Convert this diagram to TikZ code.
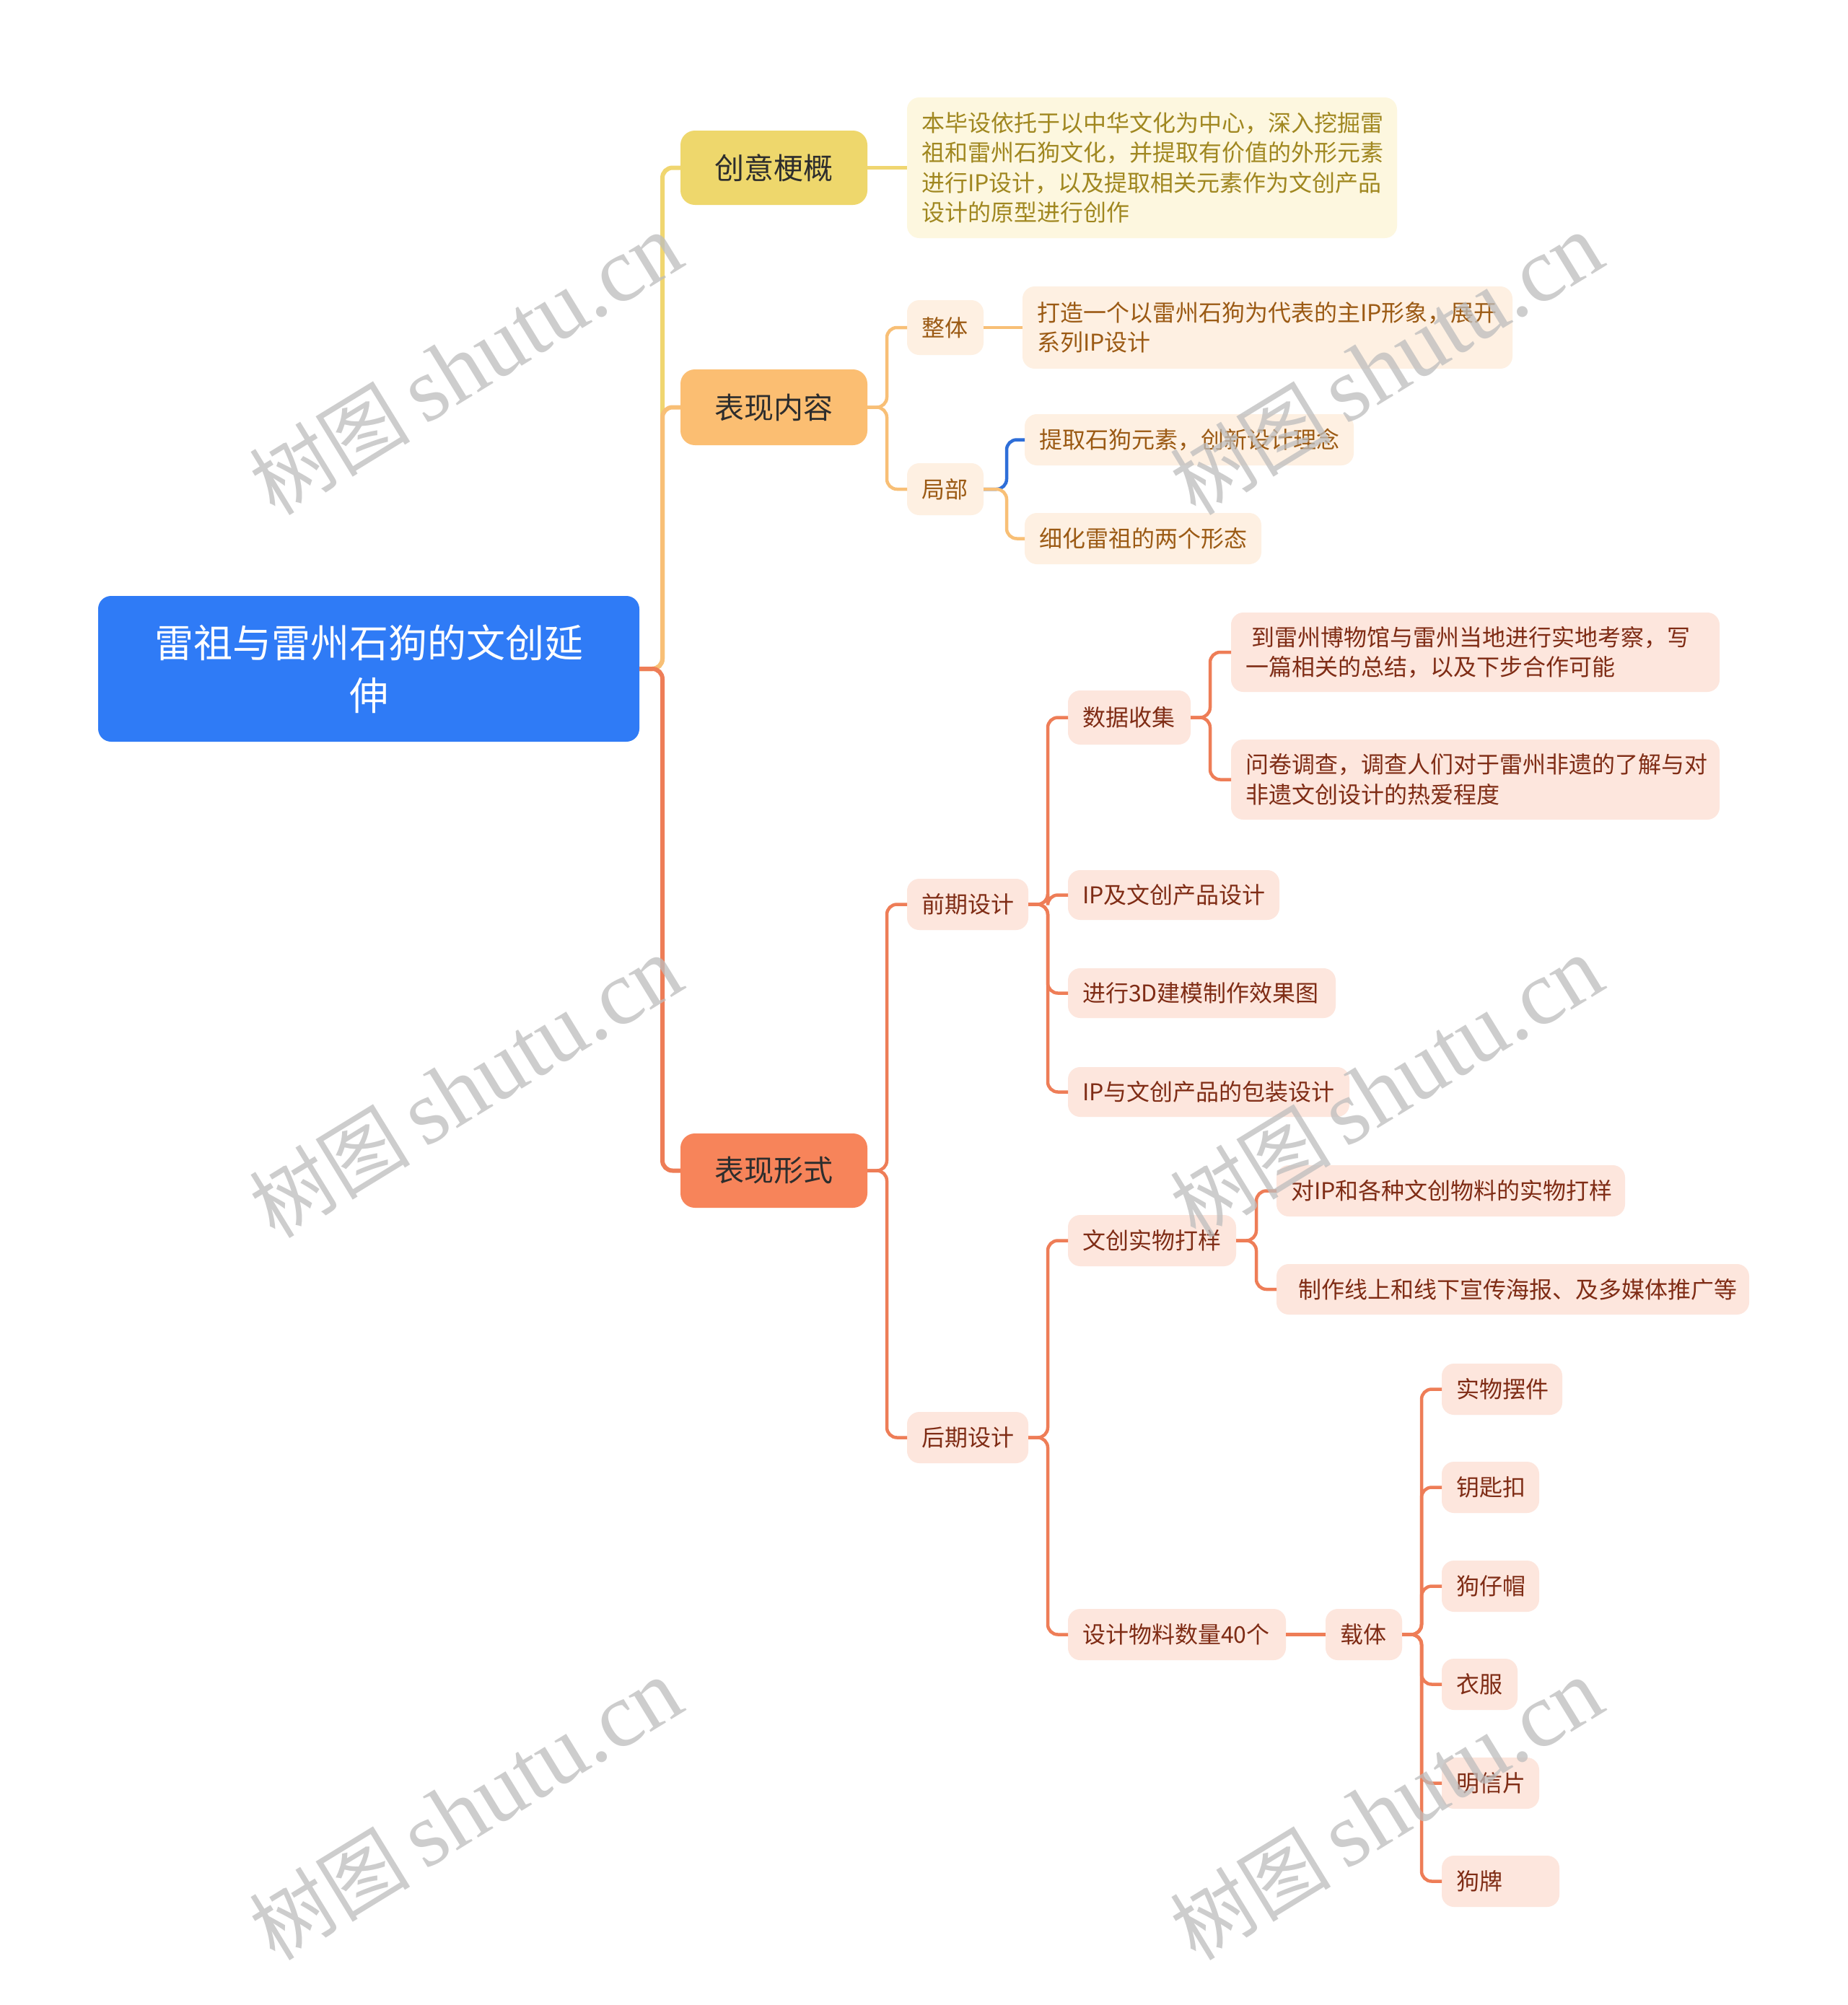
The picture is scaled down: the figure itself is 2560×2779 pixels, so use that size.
\documentclass[tikz,border=0pt]{standalone}
\usepackage{fontspec}
\setmainfont{Noto Sans CJK SC}
\newfontfamily\wmcjk{Noto Sans CJK SC}
\newfontfamily\wmlat{Liberation Serif}
\definecolor{rootblue}{HTML}{2F7BF6}
\definecolor{mainY}{HTML}{EED76C}
\definecolor{lineY}{HTML}{F0D670}
\definecolor{lightY}{HTML}{FDF7DF}
\definecolor{textY}{HTML}{A08720}
\definecolor{mainO}{HTML}{FBBE72}
\definecolor{lineO}{HTML}{F8BF76}
\definecolor{lightO}{HTML}{FEF0E2}
\definecolor{textO}{HTML}{9B5A14}
\definecolor{mainR}{HTML}{F7845A}
\definecolor{lineR}{HTML}{EE7D57}
\definecolor{lightR}{HTML}{FDE6DD}
\definecolor{textR}{HTML}{7F2C15}
\definecolor{mainText}{HTML}{2D2D2D}
\definecolor{lineB}{HTML}{2E6ED8}
\definecolor{wmgray}{HTML}{BDBDBD}
\newcommand{\mybox}[7]{%
  \pgfmathsetmacro\bxw{#4-#2}\pgfmathsetmacro\bxh{#5-#3}%
  \pgfmathsetmacro\bxcx{(#2+#4)/2}\pgfmathsetmacro\bxcy{(#3+#5)/2}%
  \pgfmathsetmacro\bxtw{#4-#2-40}%
  \node[#6, minimum width=\bxw pt, minimum height=\bxh pt, text width=\bxtw pt] (#1) at (\bxcx,\bxcy) {#7};}
\tikzset{
  basebox/.style={inner xsep=20pt, inner ysep=0pt, outer sep=0pt},
  rootbox/.style={basebox, fill=rootblue, rounded corners=18pt, text=white, align=center, font=\fontsize{54}{73}\selectfont},
  mbox/.style={basebox, rounded corners=20pt, text=mainText, align=center, font=\fontsize{41}{50}\selectfont},
  subbox/.style={basebox, rounded corners=17pt, align=left, font=\fontsize{32}{41.5}\selectfont},
  subY/.style={subbox, fill=lightY, text=textY},
  subO/.style={subbox, fill=lightO, text=textO},
  subR/.style={subbox, fill=lightR, text=textR},
  lnmain/.style={line width=6pt, rounded corners=14pt},
  lnsub/.style={line width=4.5pt, rounded corners=14pt},
  wm/.style={text=wmgray, opacity=0.75, rotate=31.5, inner sep=0pt}
}
\begin{document}
\begin{tikzpicture}[x=1pt,y=-1pt]
\useasboundingbox[fill=white] (0,0) rectangle (2560,2779);
% root and main
\mybox{root}{136}{826}{886}{1028}{rootbox}{雷祖与雷州石狗的文创延\\伸}
\mybox{cy}{943}{181}{1202}{284}{mbox, fill=mainY}{创意梗概}
\mybox{bn}{943}{512}{1202}{617}{mbox, fill=mainO}{表现内容}
\mybox{bx}{943}{1571}{1202}{1674}{mbox, fill=mainR}{表现形式}
% yellow branch
\mybox{cyd}{1257}{135}{1936}{330}{subY}{本毕设依托于以中华文化为中心，深入挖掘雷\\祖和雷州石狗文化，并提取有价值的外形元素\\进行IP设计，以及提取相关元素作为文创产品\\设计的原型进行创作}
% orange branch
\mybox{zt}{1257}{416}{1363}{492}{subO}{整体}
\mybox{ztd}{1417}{397}{2096}{511}{subO}{打造一个以雷州石狗为代表的主IP形象，展开\\系列IP设计}
\mybox{jb}{1257}{642}{1363}{714}{subO}{局部}
\mybox{tq}{1420}{574}{1876}{645}{subO}{提取石狗元素，创新设计理念}
\mybox{xh}{1420}{711}{1748}{782}{subO}{细化雷祖的两个形态}
% red branch
\mybox{qq}{1257}{1218}{1425}{1289}{subR}{前期设计}
\mybox{sj}{1480}{957}{1650}{1032}{subR}{数据收集}
\mybox{sja}{1706}{849}{2383}{959}{subR}{\hspace*{8pt}到雷州博物馆与雷州当地进行实地考察，写\\一篇相关的总结，以及下步合作可能}
\mybox{sjb}{1706}{1025}{2383}{1136}{subR}{问卷调查，调查人们对于雷州非遗的了解与对\\非遗文创设计的热爱程度}
\mybox{ip}{1480}{1206}{1773}{1275}{subR}{IP及文创产品设计}
\mybox{md}{1480}{1342}{1851}{1411}{subR}{进行3D建模制作效果图}
\mybox{bz}{1480}{1479}{1870}{1548}{subR}{IP与文创产品的包装设计}
\mybox{hq}{1257}{1957}{1425}{2028}{subR}{后期设计}
\mybox{wc}{1480}{1684}{1713}{1755}{subR}{文创实物打样}
\mybox{wca}{1769}{1615}{2252}{1686}{subR}{对IP和各种文创物料的实物打样}
\mybox{wcb}{1769}{1752}{2424}{1822}{subR}{\hspace*{10pt}制作线上和线下宣传海报、及多媒体推广等}
\mybox{wl}{1480}{2230}{1782}{2301}{subR}{设计物料数量40个}
\mybox{zti}{1837}{2230}{1943}{2301}{subR}{载体}
\mybox{ca}{1998}{1890}{2165}{1961}{subR}{实物摆件}
\mybox{cb}{1998}{2026}{2133}{2097}{subR}{钥匙扣}
\mybox{cc}{1998}{2163}{2133}{2234}{subR}{狗仔帽}
\mybox{cd}{1998}{2299}{2103}{2370}{subR}{衣服}
\mybox{ce}{1998}{2436}{2133}{2507}{subR}{明信片}
\mybox{cf}{1998}{2572}{2161}{2643}{subR}{狗牌}
% connectors: level 1
\draw[lnmain, lineY] (root.east) -- ++(32,0) |- (cy.west);
\draw[lnmain, lineO] (root.east) -- ++(32,0) |- (bn.west);
\draw[lnmain, lineR] (root.east) -- ++(32,0) |- (bx.west);
% yellow
\draw[lnsub, lineY] (cy.east) -- (cyd.west);
% orange
\draw[lnsub, lineO] (bn.east) -- ++(27,0) |- (zt.west);
\draw[lnsub, lineO] (bn.east) -- ++(27,0) |- (jb.west);
\draw[lnsub, lineO] (zt.east) -- (ztd.west);
\draw[lnsub, lineB] (jb.east) -- ++(32,0) |- (tq.west);
\draw[lnsub, lineO] (jb.east) -- ++(32,0) |- (xh.west);
% red
\draw[lnsub, lineR] (bx.east) -- ++(27,0) |- (qq.west);
\draw[lnsub, lineR] (bx.east) -- ++(27,0) |- (hq.west);
\draw[lnsub, lineR] (qq.east) -- ++(27,0) |- (sj.west);
\draw[lnsub, lineR] (qq.east) -- ++(27,0) |- (ip.west);
\draw[lnsub, lineR] (qq.east) -- ++(27,0) |- (md.west);
\draw[lnsub, lineR] (qq.east) -- ++(27,0) |- (bz.west);
\draw[lnsub, lineR] (sj.east) -- ++(27,0) |- (sja.west);
\draw[lnsub, lineR] (sj.east) -- ++(27,0) |- (sjb.west);
\draw[lnsub, lineR] (hq.east) -- ++(27,0) |- (wc.west);
\draw[lnsub, lineR] (hq.east) -- ++(27,0) |- (wl.west);
\draw[lnsub, lineR] (wc.east) -- ++(28,0) |- (wca.west);
\draw[lnsub, lineR] (wc.east) -- ++(28,0) |- (wcb.west);
\draw[lnsub, lineR] (wl.east) -- (zti.west);
\foreach \c in {ca,cb,cc,cd,ce,cf}
  \draw[lnsub, lineR] (zti.east) -- ++(27,0) |- (\c.west);
% watermarks
\foreach \wx/\wy [count=\i] in {645/505, 645/1507, 645/2508, 1921/505, 1921/1507, 1921/2508}
  \node[wm] (wm\i) at (\wx,\wy) {{\wmcjk\fontsize{112}{112}\selectfont 树图}\hspace{20pt}{\wmlat\fontsize{127}{127}\selectfont shutu.cn}};
\end{tikzpicture}
\end{document}
